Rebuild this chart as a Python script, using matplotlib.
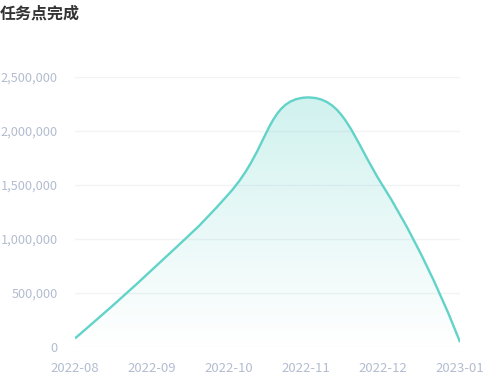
import numpy as np
import matplotlib as mpl
import matplotlib.pyplot as plt
from matplotlib.path import Path
from matplotlib.patches import PathPatch
from matplotlib.ticker import FuncFormatter

plt.rcParams['font.family'] = ['Noto Sans CJK SC', 'DejaVu Sans']

# data
months = ['2022-08', '2022-09', '2022-10', '2022-11', '2022-12', '2023-01']
done = [80000, 715000, 1420000, 2310000, 1490000, 45000]
yticks = [0, 500000, 1000000, 1500000, 2000000, 2500000]

lineColor = '#62d3c8'
labelColor = '#b3bdd0'

fig = plt.figure(figsize=(4.95, 3.89), dpi=100)
ax = fig.add_axes([75/495, 1-347/389, 385/495, 270/389])
ax.set_xlim(0, len(months)-1)
ax.set_ylim(0, 2500000)

# smooth bezier through the points, computed in pixel space (echarts style)
xs = np.arange(len(months))
pts = ax.transData.transform(np.column_stack([xs, done]))
smooth = 0.5
n = len(pts)
cps = []
for i in range(n):
    p = pts[i]
    if 0 < i < n-1:
        vec = pts[i+1] - pts[i-1]
        dPrev = np.linalg.norm(p - pts[i-1])
        dNext = np.linalg.norm(p - pts[i+1])
        r = dNext / (dNext + dPrev)
        cIn = p - vec * smooth * (1 - r)
        cOut = p + vec * smooth * r
    else:
        cIn = p.copy()
        cOut = p.copy()
    cps.append((cIn, cOut))

verts = [pts[0]]
codes = [Path.MOVETO]
for i in range(n-1):
    verts += [cps[i][1], cps[i+1][0], pts[i+1]]
    codes += [Path.CURVE4]*3
inv = ax.transData.inverted()
dataVerts = inv.transform(np.array(verts))
linePath = Path(dataVerts, codes)

# area under the curve
areaVerts = np.vstack([dataVerts, [[xs[-1], 0], [xs[0], 0], dataVerts[0]]])
areaCodes = codes + [Path.LINETO, Path.LINETO, Path.CLOSEPOLY]
areaPatch = PathPatch(Path(areaVerts, areaCodes), facecolor='none', edgecolor='none')
ax.add_patch(areaPatch)

top = max(done) * 1.005
grad = np.linspace(0, 1, 256).reshape(-1, 1)
rgb = mpl.colors.to_rgb(lineColor)
img = np.zeros((256, 1, 4))
img[..., 0] = rgb[0]
img[..., 1] = rgb[1]
img[..., 2] = rgb[2]
img[..., 3] = 0.3 * grad
im = ax.imshow(img, extent=[0, len(months)-1, 0, top], origin='lower',
               aspect='auto', zorder=1, interpolation='bilinear')
im.set_clip_path(areaPatch)

ax.add_patch(PathPatch(linePath, facecolor='none', edgecolor=lineColor, lw=1.7, zorder=3))

# grid and axes style
ax.set_yticks(yticks)
ax.yaxis.set_major_formatter(FuncFormatter(lambda v, p: f'{int(v):,}'))
ax.set_xticks(xs)
ax.set_xticklabels(months)
ax.grid(axis='y', color='#f2f3f5', lw=1)
ax.set_axisbelow(True)
for s in ax.spines.values():
    s.set_visible(False)
ax.tick_params(axis='both', length=0, colors=labelColor, labelsize=9.5)
ax.tick_params(axis='y', pad=12.5, labelsize=9.2)
ax.tick_params(axis='x', pad=11)
ax.set_xlim(0, len(months)-1)
ax.set_ylim(0, 2500000)

fig.text(0, 1-14/389, '任务点完成', fontsize=11.5, fontweight='bold', color='#333333',
         ha='left', va='center')

fig.savefig('out.png', dpi=100)
